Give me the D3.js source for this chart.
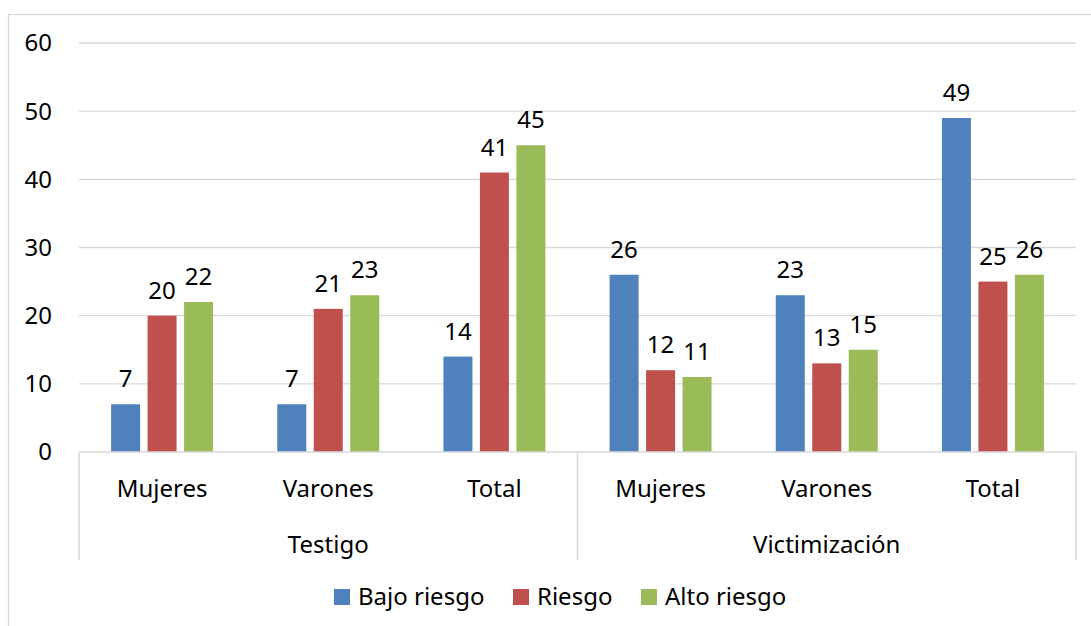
<!DOCTYPE html>
<html>
<head>
<meta charset="utf-8">
<script src="https://cdn.jsdelivr.net/npm/d3@7"></script>
<style>
  body { margin: 0; background: #fff; }
  text { font-family: "Noto Sans", "Open Sans", sans-serif; fill: #000; }
</style>
</head>
<body>
<div id="chart"></div>
<script>
// data
var groups = ["Testigo", "Victimización"];
var categories = ["Mujeres", "Varones", "Total"];
var series = ["Bajo riesgo", "Riesgo", "Alto riesgo"];
var colors = ["#4f81bd", "#c0504d", "#9bbb59"];
var bajo = [7, 7, 14, 26, 23, 49];
var riesgo = [20, 21, 41, 12, 13, 25];
var alto = [22, 23, 45, 11, 15, 26];
var yTicks = [0, 10, 20, 30, 40, 50, 60];

var W = 1091, H = 626;
var margin = {top: 43, right: 15, bottom: 174, left: 79},
    width = W - margin.left - margin.right,
    height = H - margin.top - margin.bottom;
var fs = "24px";

var svg = d3.select("#chart").append("svg")
  .attr("width", W).attr("height", H);

// outer chart border
svg.append("rect")
  .attr("x", 8.5).attr("y", 14.5)
  .attr("width", W + 10).attr("height", H + 10)
  .attr("fill", "none").attr("stroke", "#d9d9d9").attr("stroke-width", 1.3);

var g = svg.append("g")
  .attr("transform", "translate(" + margin.left + "," + margin.top + ")");

var keys = [];
groups.forEach(function(gr) {
  categories.forEach(function(c) { keys.push(gr + "|" + c); });
});

var x0 = d3.scaleBand().domain(keys).range([0, width]).paddingInner(0).paddingOuter(0);
var x1 = d3.scaleBand().domain(series).range([0, x0.bandwidth()]).paddingInner(0.205).paddingOuter(0.88);
var y = d3.scaleLinear().domain([0, 60]).range([height, 0]);

// gridlines
g.selectAll(".grid").data(yTicks.slice(1)).enter().append("line")
  .attr("x1", 0).attr("x2", width)
  .attr("y1", function(d) { return y(d); }).attr("y2", function(d) { return y(d); })
  .attr("stroke", "#d9d9d9").attr("stroke-width", 1.3);

// y axis labels
g.selectAll(".ylab").data(yTicks).enter().append("text")
  .attr("x", -27).attr("y", function(d) { return y(d); })
  .attr("dy", "0.35em").attr("text-anchor", "end")
  .style("font-size", fs)
  .text(function(d) { return d; });

var rows = keys.map(function(k, i) {
  return {key: k, values: [bajo[i], riesgo[i], alto[i]]};
});

var grp = g.selectAll(".cat").data(rows).enter().append("g")
  .attr("transform", function(d) { return "translate(" + x0(d.key) + ",0)"; });

grp.selectAll("rect").data(function(d) {
  return d.values.map(function(v, j) { return {s: series[j], v: v, c: colors[j]}; });
}).enter().append("rect")
  .attr("x", function(d) { return x1(d.s); })
  .attr("y", function(d) { return y(d.v); })
  .attr("width", x1.bandwidth())
  .attr("height", function(d) { return height - y(d.v); })
  .attr("fill", function(d) { return d.c; });

grp.selectAll(".val").data(function(d) {
  return d.values.map(function(v, j) { return {s: series[j], v: v}; });
}).enter().append("text")
  .attr("x", function(d) { return x1(d.s) + x1.bandwidth() / 2; })
  .attr("y", function(d) { return y(d.v) - 17; })
  .attr("text-anchor", "middle")
  .style("font-size", fs)
  .text(function(d) { return d.v; });

// category axis box
var ax = g.append("g").attr("transform", "translate(0," + height + ")");
ax.append("line").attr("x1", 0).attr("x2", width).attr("y1", 0).attr("y2", 0)
  .attr("stroke", "#d9d9d9").attr("stroke-width", 1.5);
[0, 3, 6].forEach(function(i) {
  var xx = i < 6 ? x0(keys[i]) : width;
  ax.append("line").attr("x1", xx).attr("x2", xx).attr("y1", 0).attr("y2", 108)
    .attr("stroke", "#d9d9d9").attr("stroke-width", 1.5);
});

ax.selectAll(".clab").data(keys).enter().append("text")
  .attr("x", function(d) { return x0(d) + x0.bandwidth() / 2; })
  .attr("y", 37).attr("dy", "0.35em")
  .attr("text-anchor", "middle")
  .style("font-size", fs)
  .text(function(d) { return d.split("|")[1]; });

ax.selectAll(".glab").data(groups).enter().append("text")
  .attr("x", function(d, i) { return x0(keys[i * 3]) + x0.bandwidth() * 1.5; })
  .attr("y", 93).attr("dy", "0.35em")
  .attr("text-anchor", "middle")
  .style("font-size", fs)
  .text(function(d) { return d; });

// legend
var legX = [334, 513, 641];
var leg = svg.selectAll(".leg").data(series).enter().append("g")
  .attr("transform", function(d, i) { return "translate(" + legX[i] + ",589)"; });
leg.append("rect").attr("width", 16).attr("height", 16)
  .attr("fill", function(d, i) { return colors[i]; });
leg.append("text").attr("x", 24).attr("y", 8).attr("dy", "0.35em")
  .style("font-size", fs)
  .text(function(d) { return d; });
</script>
</body>
</html>
